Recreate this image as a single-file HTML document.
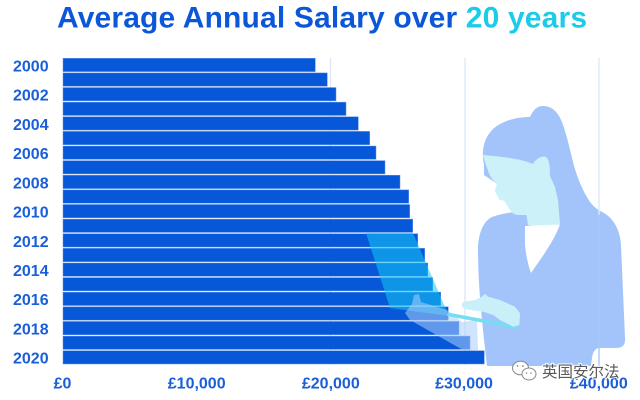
<!DOCTYPE html>
<html>
<head>
<meta charset="utf-8">
<style>
html,body{margin:0;padding:0;background:#fff;}
svg{display:block;}
text{font-family:"Liberation Sans",Arial,sans-serif;font-weight:bold;}
</style>
</head>
<body>
<svg width="640" height="400" viewBox="0 0 640 400" xmlns="http://www.w3.org/2000/svg">
  <rect width="640" height="400" fill="#ffffff"/>
  <!-- title -->
  <text x="57" y="27.5" font-size="30" textLength="530" lengthAdjust="spacing" fill="#0b57d8">Average Annual Salary over <tspan fill="#1ccbe8">20 years</tspan></text>

  <!-- gridlines -->
  <g stroke="#dde8fb" stroke-width="1.4">
    <line x1="330.5" y1="58" x2="330.5" y2="365"/>
    <line x1="465" y1="58" x2="465" y2="365"/>
  </g>

  <!-- body figure -->
  <g fill="#a2c4fa">
    <path d="M478,250 C478,236 482,222 492,217 C500,214 508,213 513,212 L600,211 C612,216 620,228 621,245 L625,338 Q626,348 616,348 L598,348 Q593,350 592,358 L591,366 L487,366 C483,330 478,290 478,250 Z"/>
    <path d="M484,165 C481,150 484,138 493,129 C503,120 518,117 530,117 C533,110 537,106 543,106 C552,106 558,112 562,122 C566,133 569,145 572,158 C576,175 582,190 590,202 C594,207 598,210 602,212 L560,226 L484,175 Z"/>
  </g>
  <!-- face -->
  <path fill="#ccf1f8" d="M483,155 C495,156 505,157 515,159 C522,160 528,162 533,164 C535,160 540,156 545,156.5 C549,158 550,165 550,176 L555,187 L558,200 L560,224 C552,226 543,227 536,227 L528,225 L526.5,215 C522,215 519,215 517,215 C514,214 512,213 511.5,211.5 C509,209 508,207 508,206.5 C506,204 505,202 505,201.5 C503,200 501,200 500,200 C499,199 498,198 498,196.5 C496,194 495,192 495,190 C496,187 497,185 496.5,183 C495,182 494,181 493,180 C490,176 488,172 488,170 C486,166 485,162 483,155 Z"/>
  <!-- white V neckline -->
  <path fill="#ffffff" d="M525,226 L560,224.5 C556,236 547,250 540,260 L531,273 C528,265 526,255 525,245 Z"/>

  <!-- bars -->
  <g fill="#0757d9" stroke="#5f93ea" stroke-width="0.5">
    <rect x="63" y="58.3" width="252.3" height="13.3"/>
    <rect x="63" y="72.92" width="264.3" height="13.3"/>
    <rect x="63" y="87.54" width="273" height="13.3"/>
    <rect x="63" y="102.16" width="283" height="13.3"/>
    <rect x="63" y="116.78" width="295.3" height="13.3"/>
    <rect x="63" y="131.4" width="306.7" height="13.3"/>
    <rect x="63" y="146.02" width="313" height="13.3"/>
    <rect x="63" y="160.64" width="322" height="13.3"/>
    <rect x="63" y="175.26" width="337" height="13.3"/>
    <rect x="63" y="189.88" width="345.7" height="13.3"/>
    <rect x="63" y="204.5" width="346.7" height="13.3"/>
    <rect x="63" y="219.12" width="349.7" height="13.3"/>
    <rect x="63" y="233.74" width="354.7" height="13.3"/>
    <rect x="63" y="248.36" width="361.7" height="13.3"/>
    <rect x="63" y="262.98" width="364.7" height="13.3"/>
    <rect x="63" y="277.6" width="369.7" height="13.3"/>
    <rect x="63" y="292.22" width="377.7" height="13.3"/>
    <rect x="63" y="306.84" width="385.3" height="13.3"/>
    <rect x="63" y="321.46" width="396" height="13.3"/>
    <rect x="63" y="336.08" width="407" height="13.3"/>
    <rect x="63" y="350.7" width="421.3" height="13.3"/>
  </g>

  <!-- laptop screen (translucent) -->
  <path fill="rgb(22,200,242)" fill-opacity="0.55" d="M366,233 L413,233 L449,316 L390,308 Z"/>
  <!-- left hand / sleeve translucent -->
  <path fill="rgb(170,205,252)" fill-opacity="0.55" d="M405,313 L412,304 L414,295 L419,294 L421,302 L437,307 L447,310 L462,322 L477,320 L478,351 L463,350 L440,337 L410,320 Z"/>
  <!-- laptop base -->
  <path fill="#74def2" d="M448,312.5 L518,325.5 L517,329 L447,316 Z"/>
  <!-- right hand -->
  <path fill="#c9f0f8" d="M461.7,305 L463.3,301.7 L475,300 L481.7,296.7 L485,294 L488.3,296.7 L500,300 L515,306.7 L520,313.3 L519.3,325 L513.3,326.7 L500,320 L493.3,315 L483.3,311.7 L470,310 L463.3,308.3 Z"/>

  <!-- gridline over body -->
  <line x1="599" y1="58" x2="599" y2="365" stroke="#dde8fb" stroke-width="1.4"/>
  <line x1="599" y1="215" x2="599" y2="366" stroke="#94b9f4" stroke-width="1"/>

  <!-- year labels -->
  <g font-size="16" fill="#1a5fd9">
    <text x="13" y="71.3">2000</text>
    <text x="13" y="100.5">2002</text>
    <text x="13" y="129.8">2004</text>
    <text x="13" y="159">2006</text>
    <text x="13" y="188.3">2008</text>
    <text x="13" y="217.5">2010</text>
    <text x="13" y="246.8">2012</text>
    <text x="13" y="276">2014</text>
    <text x="13" y="305.2">2016</text>
    <text x="13" y="334.5">2018</text>
    <text x="13" y="363.7">2020</text>
  </g>

  <!-- x tick labels -->
  <g font-size="16" fill="#1a5fd9" text-anchor="middle">
    <text x="62.5" y="388.5">£0</text>
    <text x="196.7" y="388.5">£10,000</text>
    <text x="330.8" y="388.5">£20,000</text>
    <text x="464" y="388.5">£30,000</text>
    <text x="598.8" y="388.5">£40,000</text>
  </g>

  <!-- watermark -->
  <g stroke="#8a8a8a" stroke-width="1" fill="#ffffff">
    <ellipse cx="520.5" cy="368" rx="8" ry="6.8"/>
    <ellipse cx="529" cy="374" rx="7" ry="6"/>
  </g>
  <g fill="#8a8a8a">
    <circle cx="517.5" cy="366" r="0.9"/>
    <circle cx="523" cy="366" r="0.9"/>
    <circle cx="526.5" cy="373" r="0.8"/>
    <circle cx="531" cy="373" r="0.8"/>
  </g>
  <text x="542" y="377" font-size="15.5" font-weight="normal" fill="#5a5a5a" stroke="#ffffff" stroke-width="2" paint-order="stroke" style="font-family:'Liberation Sans','Noto Sans CJK SC',sans-serif;font-weight:normal">英国安尔法</text>
</svg>
</body>
</html>
